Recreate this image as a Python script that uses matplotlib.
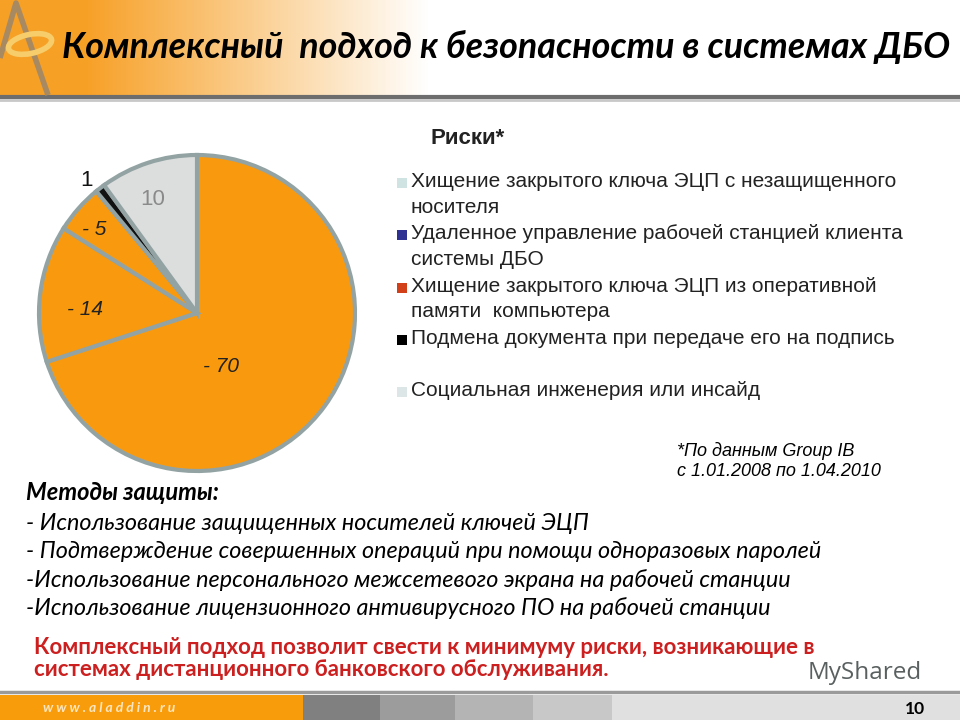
import numpy as np
import matplotlib.pyplot as plt
from matplotlib.patches import Rectangle, Ellipse

# данные диаграммы
risk_values = [70, 14, 5, 1, 10]
slice_labels = ['- 70', '- 14', '- 5', '1', '10']
slice_colors = ['#f99a0e', '#f99a0e', '#f99a0e', '#111111', '#dcdedd']
legend_labels = [
    'Хищение закрытого ключа ЭЦП с незащищенного\nносителя',
    'Удаленное управление рабочей станцией клиента\nсистемы ДБО',
    'Хищение закрытого ключа ЭЦП из оперативной\nпамяти  компьютера',
    'Подмена документа при передаче его на подпись',
    'Социальная инженерия или инсайд',
]
legend_colors = ['#cfe3e3', '#2e3192', '#d2401a', '#000000', '#dde6e6']
methods = [
    '- Использование защищенных носителей ключей ЭЦП',
    '- Подтверждение совершенных операций при помощи одноразовых паролей',
    '-Использование персонального межсетевого экрана на рабочей станции',
    '-Использование лицензионного антивирусного ПО на рабочей станции',
]

fig = plt.figure(figsize=(9.6, 7.2), dpi=100)

# фон слайда
bg = fig.add_axes([0, 0, 1, 1])
bg.set_xlim(0, 960)
bg.set_ylim(720, 0)
bg.axis('off')
grad = np.linspace(0, 1, 256)
img = np.zeros((1, 256, 4))
img[0, :, 0] = 0.97
img[0, :, 1] = 0.63
img[0, :, 2] = 0.15
img[0, :, 3] = np.clip(1.25 - 1.25 * grad, 0, 1)
bg.imshow(img, extent=(0, 430, 95, 0), aspect='auto', zorder=0)
bg.plot([0, 960], [97, 97], color='#6d6d6d', lw=3, zorder=1)
bg.plot([0, 960], [100, 100], color='#c8c8c8', lw=2, zorder=1)
# логотип
bg.plot([0, 16, 48], [58, 3, 95], color='#a88a62', lw=4, solid_capstyle='butt', zorder=2)
bg.add_patch(Ellipse((30, 44), 44, 19, angle=-12, fill=False, edgecolor='#f6cd6a', lw=4, zorder=3))

# нижняя полоса
bg.plot([0, 960], [692, 692], color='#9a9a9a', lw=2.5)
footer = [(0, 303, '#f99c0c'), (303, 380, '#808080'), (380, 455, '#9c9c9c'),
          (455, 533, '#b4b4b4'), (533, 612, '#c8c8c8'), (612, 960, '#e0e0e0')]
for x0, x1, c in footer:
    bg.add_patch(Rectangle((x0, 695), x1 - x0, 25, color=c, lw=0))
bg.text(43, 708, 'w w w . a l a d d i n . r u', color='#fbe6c0', fontsize=10, style='italic',
        fontweight='bold', va='center', family='Lato')
bg.text(925, 709, '10', fontsize=12.5, fontweight='bold', ha='right', va='center', family='Lato')
bg.text(808, 673, 'MyShared', fontsize=17.5, color='#5a6060', va='center', family='Open Sans')

# заголовок
bg.text(62, 47, 'Комплексный  подход к безопасности в системах ДБО', fontsize=25.8,
        fontweight='bold', style='italic', va='center', family='Lato')
bg.text(430, 138, 'Риски*', fontsize=16, fontweight='bold', va='center',
        family='Liberation Sans', color='#222222')

# круговая диаграмма
r_px = 158
cx, cy = 197, 313
ax = fig.add_axes([(cx - 1.02 * r_px) / 960, (720 - cy - 1.02 * r_px) / 720,
                   2.04 * r_px / 960, 2.04 * r_px / 720])
wedges, _ = ax.pie(risk_values, colors=slice_colors, startangle=90, counterclock=False,
                   wedgeprops=dict(edgecolor='#93a3a3', linewidth=3))
ax.set_xlim(-1.02, 1.02)
ax.set_ylim(-1.02, 1.02)
ax.set_aspect('equal')

label_pos = [(0.15, -0.34), (-0.71, 0.02), (-0.65, 0.53), (-0.70, 0.84), (-0.28, 0.72)]
label_style = [('italic', '#222222', 15), ('italic', '#222222', 15), ('italic', '#222222', 15),
               ('normal', '#111111', 16), ('normal', '#8a8a8a', 16)]
for txt, (x, y), (st, c, fs) in zip(slice_labels, label_pos, label_style):
    ax.text(x, y, txt, ha='center', va='center', fontsize=fs, style=st, color=c,
            family='Liberation Sans', clip_on=False)

# легенда (маркер у первой строки, как на слайде)
for i, (lab, c) in enumerate(zip(legend_labels, legend_colors)):
    y = 183 + i * 52.3
    bg.add_patch(Rectangle((397, y - 5), 10, 10, color=c, lw=0))
    bg.text(411, y - 11, lab, fontsize=15, va='top', family='Liberation Sans',
            color='#222222', linespacing=1.45)

# источник
bg.text(677, 451, '*По данным Group IB', fontsize=13, style='italic', va='center',
        family='Liberation Sans')
bg.text(677, 471, 'с 1.01.2008 по 1.04.2010', fontsize=13, style='italic', va='center',
        family='Liberation Sans')

# методы защиты
bg.text(26, 493, 'Методы защиты:', fontsize=17, fontweight='bold', style='italic',
        va='center', family='Lato')
for i, m in enumerate(methods):
    bg.text(26, 523 + i * 28.5, m, fontsize=16.8, style='italic', va='center', family='Lato')

bg.text(34, 648, 'Комплексный подход позволит свести к минимуму риски, возникающие в',
        fontsize=16, fontweight='bold', color='#cc2020', va='center', family='Lato')
bg.text(34, 670, 'системах дистанционного банковского обслуживания.',
        fontsize=16, fontweight='bold', color='#cc2020', va='center', family='Lato')

fig.savefig('out.png', dpi=100)
